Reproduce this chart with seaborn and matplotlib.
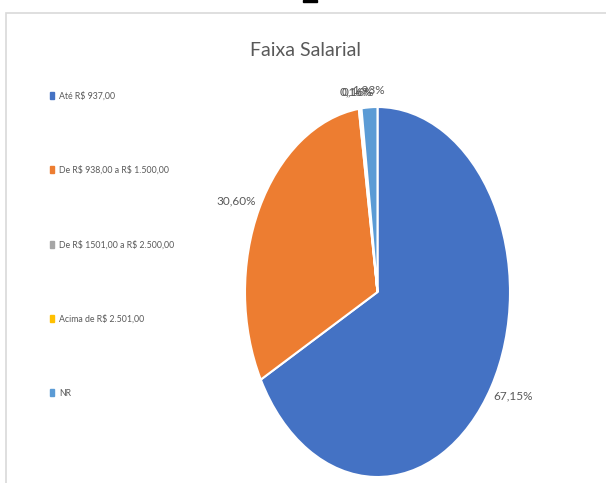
import numpy as np
import matplotlib
matplotlib.use("Agg")
import matplotlib.pyplot as plt
import matplotlib.patches as mpatches
import seaborn as sns

categories = ["Até R$ 937,00", "De R$ 938,00 a R$ 1.500,00", "De R$ 1501,00 a R$ 2.500,00",
              "Acima de R$ 2.501,00", "NR"]
shares = [67.15, 30.60, 0.16, 0.16, 1.93]
pct_labels = ["67,15%", "30,60%", "0,16%", "0,16%", "1,93%"]
colors = ["#4472C4", "#ED7D31", "#A5A5A5", "#FFC000", "#5B9BD5"]

sns.set_theme(style="white")
plt.rcParams["font.family"] = ["Lato", "DejaVu Sans"]
txt = "#595959"

fig = plt.figure(figsize=(6.06, 4.83), dpi=100)

# chart area border (cut off at right/bottom like the screenshot)
fig.patches.append(mpatches.Rectangle((6 / 606, -0.1), 1.2, (483 - 13) / 483 + 0.1,
                                      transform=fig.transFigure, fill=False,
                                      edgecolor="#D9D9D9", linewidth=1.2))
fig.patches.append(mpatches.Rectangle((303 / 606, 1 - 2 / 483), 14 / 606, 2 / 483,
                                      transform=fig.transFigure, color="black"))

fig.text(305 / 606, 1 - 50 / 483, "Faixa Salarial", ha="center", va="center",
         fontsize=14, color=txt)

ax = fig.add_axes([245 / 606, 6 / 483, 265 / 606, 370 / 483])
wedges, _ = ax.pie(shares, colors=colors, startangle=90, counterclock=False,
                   wedgeprops=dict(edgecolor="white", linewidth=1.5))
ax.set_aspect("auto")
ax.set_xlim(-1, 1)
ax.set_ylim(-1, 1)
ax.axis("off")

total = sum(shares)
cum = np.cumsum([0] + shares[:-1])
for c, v, lab in zip(cum, shares, pct_labels):
    ang = np.deg2rad(90 - 360 * (c + v / 2) / total)
    dx, dy = np.cos(ang), np.sin(ang)
    ax.annotate(lab, xy=(dx, dy), xytext=(dx * 26 * 0.72, dy * 17 * 0.72),
                textcoords="offset points", ha="center", va="center",
                fontsize=8.5, color=txt, annotation_clip=False)

handles = [mpatches.Patch(color=col) for col in colors]
leg = fig.legend(handles, [c.replace("$", r"\$") for c in categories], loc="upper left",
                 bbox_to_anchor=(50 / 606, 1 - 91 / 483), frameon=False,
                 fontsize=6.3, handlelength=0.5, handleheight=0.85, handletextpad=0.5,
                 labelspacing=7.45, borderaxespad=0, borderpad=0)
for t in leg.get_texts():
    t.set_color(txt)

fig.savefig("out.png", dpi=100)
